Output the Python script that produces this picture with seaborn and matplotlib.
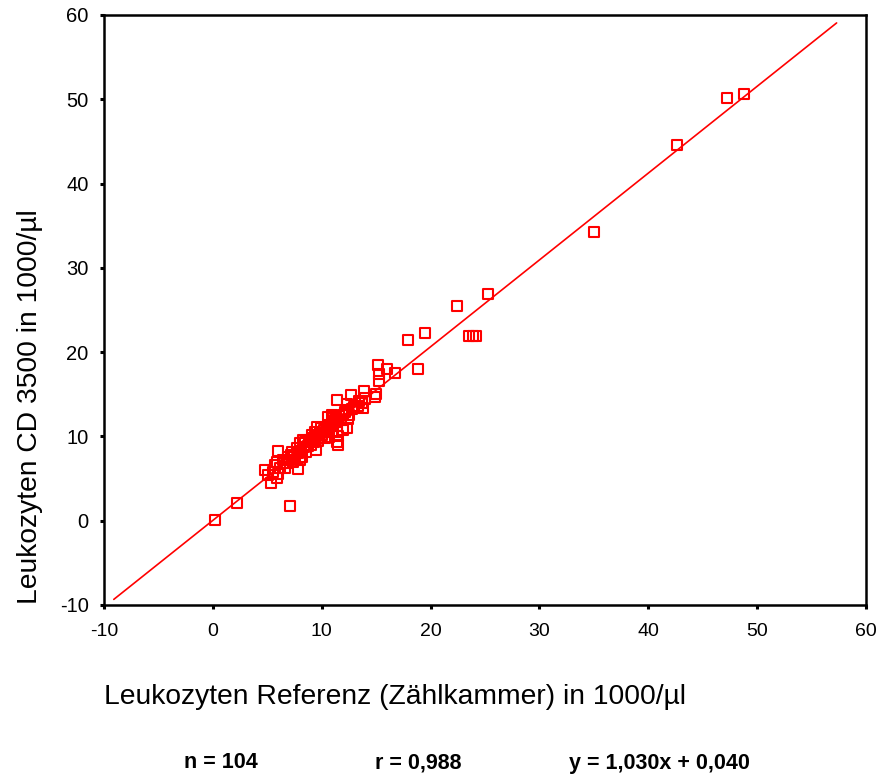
import matplotlib
matplotlib.use("Agg")
import matplotlib.pyplot as plt
import seaborn as sns
import numpy as np
import pandas as pd

# Reference counts (x) and CD 3500 counts (y), in 1000/µl
ref_x = [0.2, 2.2, 7.1, 48.8, 47.2, 42.6, 35.0, 25.3, 22.4, 19.5,
         17.9, 23.5, 23.9, 24.2, 18.8, 15.2, 16.0, 16.7, 15.3, 15.3,
         15.0, 14.9, 13.9, 12.7, 11.4, 12.3, 13.7, 13.8, 13.3, 10.9,
         12.1, 12.4, 12.3, 11.3, 11.0, 9.6, 9.4, 9.1, 10.3, 10.7,
         11.4, 11.5, 9.5, 8.3, 8.0, 7.7, 7.3, 6.0, 6.9, 6.4,
         5.9, 5.7, 6.6, 7.8, 4.8, 5.1, 5.9, 5.3, 6.5, 7.0,
         7.2, 7.5, 7.8, 8.0, 8.2, 8.4, 8.5, 8.7, 8.8, 9.0,
         9.2, 9.3, 9.5, 9.7, 9.8, 10.0, 10.2, 10.4, 10.5, 10.7,
         10.9, 11.0, 11.2, 11.4, 11.6, 11.8, 12.0, 12.2, 12.5, 12.8,
         13.0, 13.4, 14.0, 6.2, 6.8, 7.4, 8.0, 8.6, 5.5, 6.0,
         9.9, 11.5, 12.0, 10.6]
cd_y = [0.1, 2.1, 1.7, 50.6, 50.1, 44.6, 34.3, 26.9, 25.5, 22.3,
        21.4, 21.9, 21.9, 21.9, 18.0, 18.5, 18.0, 17.5, 17.4, 16.6,
        15.0, 14.7, 15.4, 14.9, 14.3, 13.8, 14.0, 13.4, 13.6, 12.5,
        12.9, 12.1, 11.0, 11.7, 12.2, 11.1, 10.5, 10.2, 9.8, 9.9,
        9.3, 9.0, 8.4, 9.6, 9.2, 8.6, 8.1, 8.3, 7.6, 7.2,
        7.0, 6.6, 6.3, 6.1, 6.0, 5.4, 5.1, 4.5, 6.8, 7.2,
        7.8, 7.5, 8.0, 8.3, 7.6, 8.8, 9.3, 8.9, 9.6, 9.0,
        9.8, 9.3, 10.0, 9.5, 10.4, 10.2, 10.8, 10.5, 11.0, 11.3,
        10.7, 11.5, 12.0, 11.2, 12.4, 11.9, 12.6, 13.1, 12.5, 13.2,
        13.5, 14.2, 14.5, 6.2, 6.9, 7.0, 7.2, 8.2, 5.8, 5.6,
        11.0, 10.0, 10.8, 12.3]

slope = 1.030
intercept = 0.040
line_x = [-9.1, 57.3]

x_ticks = [-10, 0, 10, 20, 30, 40, 50, 60]
y_ticks = [-10, 0, 10, 20, 30, 40, 50, 60]

x_label = "Leukozyten Referenz (Zählkammer) in 1000/µl"
y_label = "Leukozyten CD 3500 in 1000/µl"
stats_texts = ["n = 104", "r = 0,988", "y = 1,030x + 0,040"]

sns.set_theme(style="white")
plt.rcParams['font.family'] = ['Liberation Sans', 'DejaVu Sans']
plt.rcParams['text.color'] = 'black'
plt.rcParams['xtick.color'] = 'black'
plt.rcParams['ytick.color'] = 'black'

fig = plt.figure(figsize=(8.77, 7.78), dpi=100)
ax = fig.add_axes([104/877, 1 - 605/778, (866-104)/877, (605-15)/778])

df = pd.DataFrame({"x": ref_x, "y": cd_y})
sns.scatterplot(data=df, x="x", y="y", ax=ax, marker="s", s=52,
                facecolor="none", edgecolor="#ff0000", linewidth=1.5, zorder=3)

lx = np.array(line_x)
ldf = pd.DataFrame({"x": lx, "y": slope * lx + intercept})
sns.lineplot(data=ldf, x="x", y="y", ax=ax, color="#ff0000", linewidth=1.2, zorder=2)

ax.set_xlim(-10, 60)
ax.set_ylim(-10, 60)
ax.set_xticks(x_ticks)
ax.set_yticks(y_ticks)
ax.set_xticklabels([str(t) for t in x_ticks], fontsize=14, color="black")
ax.set_yticklabels([str(t) for t in y_ticks], fontsize=14.5, color="black")
ax.set_xlabel("")
ax.set_ylabel("")
ax.tick_params(axis="both", direction="out", length=3, width=2.2, color="black",
               bottom=True, left=True)
ax.tick_params(axis="x", pad=10)
ax.tick_params(axis="y", pad=8)
for side in ["top", "right", "bottom", "left"]:
    ax.spines[side].set_visible(True)
    ax.spines[side].set_color("black")
    ax.spines[side].set_linewidth(1.8)

fig.text(395/877, 1 - 697/778, x_label, ha="center", va="center", fontsize=20.3,
         color="black")
fig.text(30/877, 1 - 407/778, y_label, ha="center", va="center", fontsize=20.3,
         rotation=90, color="black")

xs = [221, 418, 659]
for xp, t in zip(xs, stats_texts):
    fig.text(xp/877, 1 - 763/778, t, ha="center", va="center", fontsize=15.5,
             fontweight="bold", color="black")

fig.savefig("out.png", dpi=100)
